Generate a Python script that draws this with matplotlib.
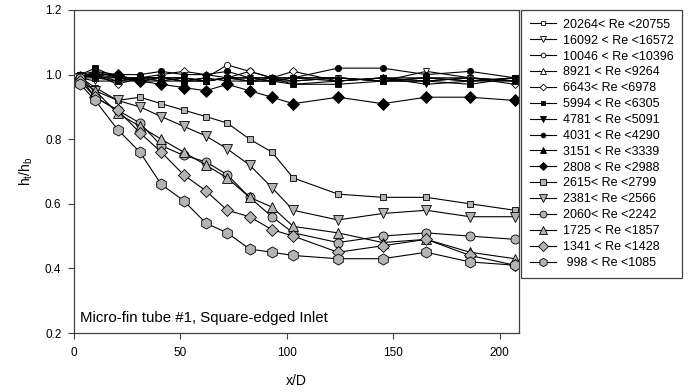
import matplotlib
matplotlib.use("Agg")
import matplotlib.pyplot as plt

plt.rcParams['font.family'] = ['Liberation Sans', 'DejaVu Sans']
plt.rcParams['mathtext.fontset'] = 'custom'
plt.rcParams['mathtext.rm'] = 'Liberation Sans'
plt.rcParams['mathtext.it'] = 'Liberation Sans'

# x/D stations
x_d = [3, 10, 20.5, 31, 41, 51.5, 62, 72, 82.5, 93, 103, 124, 145, 165.5, 186, 207]

labels = [
    "20264< Re <20755", "16092 < Re <16572", "10046 < Re <10396",
    "8921 < Re <9264", "6643< Re <6978", "5994 < Re <6305",
    "4781 < Re <5091", "4031 < Re <4290", "3151 < Re <3339",
    "2808 < Re <2988", "2615< Re <2799", "2381< Re <2566",
    "2060< Re <2242", "1725 < Re <1857", "1341 < Re <1428",
    " 998 < Re <1085",
]

ratio = [
    [1.00, 0.99, 0.99, 0.99, 0.99, 0.98, 0.98, 0.99, 0.98, 0.98, 0.99, 0.98, 0.99, 0.99, 0.98, 0.99],
    [0.99, 0.98, 0.98, 0.99, 0.98, 0.99, 0.98, 0.99, 0.99, 0.98, 0.98, 0.99, 0.98, 1.01, 0.99, 0.98],
    [0.99, 0.99, 0.98, 0.98, 0.99, 0.98, 0.99, 1.03, 1.01, 0.99, 0.99, 0.99, 0.98, 0.99, 0.99, 0.98],
    [0.99, 1.00, 0.99, 0.98, 0.99, 0.99, 0.98, 0.99, 0.99, 0.98, 0.99, 0.99, 0.98, 0.99, 0.98, 0.99],
    [1.00, 1.00, 0.97, 0.99, 1.00, 1.01, 1.00, 0.99, 1.01, 0.99, 1.01, 0.98, 0.99, 0.98, 0.99, 0.97],
    [1.00, 1.02, 0.99, 0.99, 0.99, 0.98, 0.98, 0.99, 0.98, 0.98, 0.97, 0.97, 0.98, 0.98, 0.97, 0.99],
    [0.99, 1.01, 0.99, 0.98, 0.98, 0.98, 0.99, 0.98, 0.98, 0.99, 0.97, 0.98, 0.99, 0.97, 0.98, 0.98],
    [1.00, 1.01, 1.00, 1.00, 1.01, 1.00, 1.00, 1.01, 0.99, 0.99, 0.99, 1.02, 1.02, 1.00, 1.01, 0.99],
    [0.99, 1.00, 0.98, 0.99, 0.99, 0.99, 0.98, 0.99, 0.99, 0.99, 0.98, 0.99, 0.98, 0.98, 0.99, 0.98],
    [0.99, 1.00, 1.00, 0.98, 0.97, 0.96, 0.95, 0.97, 0.95, 0.93, 0.91, 0.93, 0.91, 0.93, 0.93, 0.92],
    [0.99, 0.96, 0.92, 0.93, 0.91, 0.89, 0.87, 0.85, 0.80, 0.76, 0.68, 0.63, 0.62, 0.62, 0.60, 0.58],
    [0.99, 0.95, 0.92, 0.90, 0.87, 0.84, 0.81, 0.77, 0.72, 0.65, 0.58, 0.55, 0.57, 0.58, 0.56, 0.56],
    [0.99, 0.93, 0.89, 0.85, 0.78, 0.75, 0.73, 0.69, 0.62, 0.56, 0.51, 0.48, 0.50, 0.51, 0.50, 0.49],
    [0.98, 0.95, 0.88, 0.84, 0.80, 0.76, 0.72, 0.68, 0.62, 0.59, 0.53, 0.51, 0.48, 0.49, 0.45, 0.43],
    [0.98, 0.93, 0.89, 0.82, 0.76, 0.69, 0.64, 0.58, 0.56, 0.52, 0.50, 0.45, 0.47, 0.49, 0.44, 0.41],
    [0.97, 0.92, 0.83, 0.76, 0.66, 0.61, 0.54, 0.51, 0.46, 0.45, 0.44, 0.43, 0.43, 0.45, 0.42, 0.41],
]

# marker, face colour, size for each series
styles = [
    ('s', 'white', 4.5), ('v', 'white', 5), ('o', 'white', 4.5), ('^', 'white', 5),
    ('D', 'white', 4.5), ('s', 'black', 4.5), ('v', 'black', 5), ('o', 'black', 4.5),
    ('^', 'black', 5), ('D', 'black', 6),
    ('s', '#b4b4b4', 5), ('v', '#b4b4b4', 7), ('o', '#b4b4b4', 6.5), ('^', '#b4b4b4', 7),
    ('D', '#b4b4b4', 6.5), ('h', '#b4b4b4', 8),
]

fig = plt.figure(figsize=(6.91, 3.92), dpi=100)
ax = fig.add_axes([0.107, 0.1505, 0.644, 0.824])

for lab, y, (m, fc, ms) in zip(labels, ratio, styles):
    ax.plot(x_d, y, color='black', lw=0.8, marker=m, markersize=ms,
            markerfacecolor=fc, markeredgecolor='black', markeredgewidth=0.6,
            label=lab)

ax.set_xlim(0, 209)
ax.set_ylim(0.2, 1.2)
ax.set_xticks([0, 50, 100, 150, 200])
ax.set_yticks([0.2, 0.4, 0.6, 0.8, 1.0, 1.2])
ax.set_yticklabels(['0.2', '0.4', '0.6', '0.8', '1.0', '1.2'])
ax.tick_params(direction='out', length=4, width=0.8, labelsize=8.5, color='#404040')
ax.tick_params(axis='x', pad=6)
ax.tick_params(axis='y', pad=5)
for s in ax.spines.values():
    s.set_color('#404040')
    s.set_linewidth(0.9)

ax.set_xlabel('x/D', fontsize=10, labelpad=11)
ax.set_ylabel('h$_t$/h$_b$', fontsize=10, labelpad=7)

ax.text(3, 0.245, 'Micro-fin tube #1, Square-edged Inlet', fontsize=10.8, ha='left', va='center')

leg = fig.legend(loc='upper left', bbox_to_anchor=(521 / 691, 1 - 10 / 392),
                 fontsize=9, frameon=True, fancybox=False, edgecolor='#404040',
                 handlelength=2.1, handletextpad=0.55, labelspacing=0.31,
                 borderpad=0.7, markerscale=0.75, borderaxespad=0)
leg.get_frame().set_linewidth(0.9)
leg.get_frame().set_facecolor('white')
leg.get_frame().set_alpha(1)

fig.savefig('out.png', dpi=100, facecolor='white')
